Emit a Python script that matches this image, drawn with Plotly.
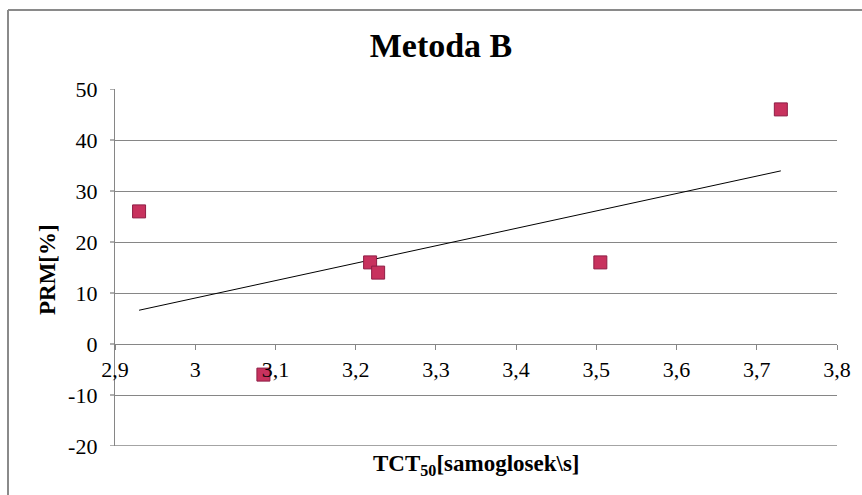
import numpy as np
import plotly.graph_objects as go

# Measurements: speech transmission (TCT50) vs. PRM
tct50 = [2.93, 3.085, 3.218, 3.228, 3.505, 3.73]
prm = [26, -6, 16, 14, 16, 46]

x_ticks = [2.9, 3.0, 3.1, 3.2, 3.3, 3.4, 3.5, 3.6, 3.7, 3.8]
x_labels = ["2,9", "3", "3,1", "3,2", "3,3", "3,4", "3,5", "3,6", "3,7", "3,8"]
y_ticks = [-20, -10, 0, 10, 20, 30, 40, 50]
y_labels = ["-20", "-10", "0", "10", "20", "30", "40", "50"]

title_text = "Metoda B"
x_title = "TCT<sub>50</sub>[samoglosek\\s]"
y_title = "PRM[%]"

# Least-squares linear trend over the measured range
slope, intercept = np.polyfit(tct50, prm, 1)
trend_x = [min(tct50), max(tct50)]
trend_y = [slope * v + intercept for v in trend_x]

serif = "Liberation Serif"
grey = "#868686"
tick_font = dict(family=serif, size=22, color="black")

fig = go.Figure()
fig.add_trace(go.Scatter(
    x=trend_x, y=trend_y, mode="lines",
    line=dict(color="black", width=1), hoverinfo="skip", showlegend=False,
))
fig.add_trace(go.Scatter(
    x=tct50, y=prm, mode="markers",
    marker=dict(symbol="square", size=13, color="#C8325E",
                line=dict(color="#8E1E45", width=1)),
    showlegend=False,
))

W, H = 862, 495
L, R, T, B = 115, 25, 89, 49
pw, ph = W - L - R, H - T - B
ymin, ymax = -20, 50

def px_x(p):
    return (p - L) / pw

def px_y(p):
    return (H - B - p) / ph

fig.update_layout(
    width=W, height=H,
    margin=dict(l=L, r=R, t=T, b=B),
    paper_bgcolor="white", plot_bgcolor="white",
    font=dict(family=serif, color="black", size=22),
)
fig.update_xaxes(
    range=[2.9, 3.8], tickmode="array", tickvals=x_ticks, ticktext=x_labels,
    showgrid=False, zeroline=False,
    showline=True, linecolor=grey, linewidth=1.3,
    ticks="outside", ticklen=5, tickcolor=grey, tickwidth=1.3,
    anchor="free", position=(0 - ymin) / (ymax - ymin),
    tickfont=tick_font,
)
fig.update_yaxes(
    range=[ymin, ymax], tickmode="array", tickvals=y_ticks, ticktext=y_labels,
    showgrid=True, gridcolor=grey, gridwidth=1.3, zeroline=False,
    showline=True, linecolor=grey, linewidth=1.3,
    ticks="outside", ticklen=12, tickcolor="rgba(0,0,0,0)", tickwidth=1.3,
    tickfont=tick_font,
)
fig.update_layout(
    title=dict(
        text="<b>%s</b>" % title_text,
        font=dict(family=serif, size=34, color="black"),
        xref="paper", x=px_x(441), xanchor="center",
        yref="container", y=1 - 33 / H, yanchor="top",
    ),
    annotations=[
        dict(text="<b>%s</b>" % x_title, xref="paper", yref="paper",
             x=px_x(476), y=px_y(465), xanchor="center", yanchor="middle",
             showarrow=False, font=dict(family=serif, size=23, color="black")),
        dict(text="<b>%s</b>" % y_title, xref="paper", yref="paper",
             x=px_x(47), y=px_y(270), xanchor="center", yanchor="middle",
             textangle=-90, showarrow=False,
             font=dict(family=serif, size=23, color="black")),
    ],
    shapes=[
        # bottom gridline at the lower end of the value axis
        dict(type="line", xref="paper", yref="y", layer="below",
             x0=0, x1=1, y0=ymin, y1=ymin,
             line=dict(color=grey, width=1.3)),
        # short visible tick marks left of the value axis
        *[dict(type="line", xref="paper", yref="y",
               x0=px_x(110), x1=0, y0=v, y1=v,
               line=dict(color=grey, width=1.3)) for v in y_ticks],
        # chart frame
        dict(type="line", xref="paper", yref="paper",
             x0=px_x(8), x1=px_x(8), y0=px_y(10), y1=px_y(H + 20),
             line=dict(color="#8a8a8a", width=2)),
        dict(type="line", xref="paper", yref="paper",
             x0=px_x(8), x1=px_x(W + 20), y0=px_y(10), y1=px_y(10),
             line=dict(color="#8a8a8a", width=2)),
    ],
)

fig.write_html("out.html")
